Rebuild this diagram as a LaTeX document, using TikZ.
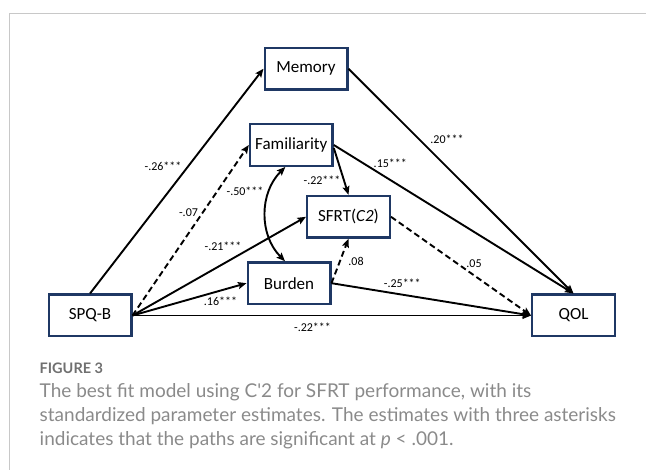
\documentclass[tikz,border=0pt]{standalone}
\usepackage{fontspec}
\setmainfont{Carlito}
\newfontfamily\capfont{Lato}
\usetikzlibrary{arrows.meta}
\definecolor{boxblue}{HTML}{1F3864}
\definecolor{framegray}{HTML}{C8C8C8}
\definecolor{capgray}{HTML}{8A8A8A}
\definecolor{headgray}{HTML}{707070}
\tikzset{
  var/.style={draw=boxblue, line width=2.4pt, fill=white,
    minimum width=82.6pt, minimum height=41.6pt, inner sep=0pt,
    font=\fontsize{17}{19}\selectfont},
  coef/.style={inner sep=0pt, font=\fontsize{12}{13}\selectfont},
  arr/.style={line width=1.9pt, -{Stealth[length=8.5pt,width=7pt,inset=1.5pt]}},
  darr/.style={arr, dash pattern=on 6pt off 3.5pt},
  caption/.style={anchor=base west, inner sep=0pt, text=capgray,
    font=\capfont\fontsize{19}{22}\selectfont}
}
\begin{document}
\begin{tikzpicture}[x=1pt, y=-1pt]
\useasboundingbox (0,0) rectangle (646,470);
% card frame: only its top and left edges fall inside the page
\draw[framegray, line width=1.2pt] (9.3,480) -- (9.3,13.3) -- (660,13.3);

% variables
\node[var] (mem)  at (306,68.7)    {Memory};
\node[var] (fam)  at (291.3,145)   {Familiarity};
\node[var] (sfrt) at (348.5,216.8) {SFRT(\textit{C2})};
\node[var] (bur)  at (289,283.2)   {Burden};
\node[var] (spq)  at (90,315.5)    {SPQ-B};
\node[var] (qol)  at (573.5,315.5) {QOL};

% paths
\draw[arr]  (spq.north) -- (mem.west);
\draw[darr] (spq.east) -- (fam.west);
\draw[arr]  (spq.east) -- (sfrt.west);
\draw[arr]  (spq.east) -- (bur.west);
\draw[arr]  (spq.east) -- (qol.west);
\draw[arr]  (mem.east) -- (qol.north);
\draw[arr]  (fam.east) -- (qol.north);
\draw[arr]  ([yshift=-3pt]fam.east) -- (sfrt.north);
\draw[line width=1.9pt, {Stealth[length=8.5pt,width=7pt,inset=1.5pt]}-{Stealth[length=8.5pt,width=7pt,inset=1.5pt]}]
  ([xshift=-6pt]fam.south) to[bend right=45] ([xshift=-4pt]bur.north);
\draw[arr]  (bur.east) -- (qol.west);
\draw[darr] (bur.east) -- (sfrt.south);
\draw[darr] (sfrt.east) -- (qol.west);

% coefficients
\node[coef] (c1)  at (163,166.7) {-.26***};
\node[coef] (c2)  at (188.5,212.5) {-.07};
\node[coef] (c3)  at (245,191)   {-.50***};
\node[coef] (c4)  at (223,246.7) {-.21***};
\node[coef] (c5)  at (220.5,301.7) {.16***};
\node[coef] (c6)  at (312.5,327) {-.22***};
\node[coef] (c7)  at (322,180.5) {-.22***};
\node[coef] (c8)  at (447,139.5) {.20***};
\node[coef] (c9)  at (390.3,163.3) {.15***};
\node[coef] (c10) at (356,261.3) {.08};
\node[coef] (c11) at (474,263.3) {.05};
\node[coef] (c12) at (402.3,283.3) {-.25***};

% caption
\node[caption, text=headgray, font=\capfont\bfseries\fontsize{14.5}{17}\selectfont] (fig) at (39.5,373.3) {FIGURE 3};
\node[caption] (l1) at (39.5,397.7) {The best fit model using C'2 for SFRT performance, with its};
\node[caption] (l2) at (39.5,421.7) {standardized parameter estimates. The estimates with three asterisks};
\node[caption] (l3) at (39.5,445.7) {indicates that the paths are significant at \textit{p} < .001.};
\end{tikzpicture}
\end{document}
